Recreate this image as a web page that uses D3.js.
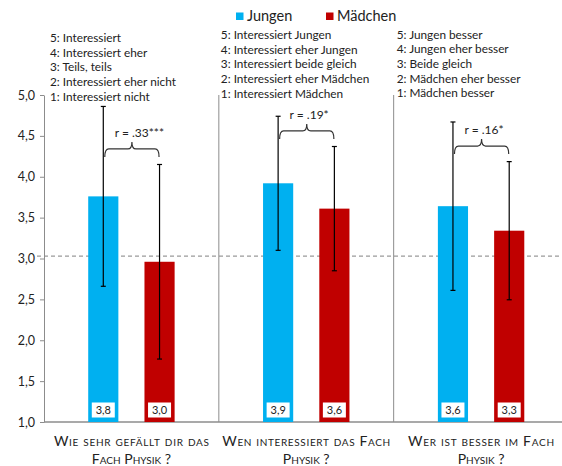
<!DOCTYPE html>
<html>
<head>
<meta charset="utf-8">
<script src="https://cdn.jsdelivr.net/npm/d3@7"></script>
<style>
  html, body { margin: 0; padding: 0; background: #fff; }
  svg { display: block; font-family: Lato, "Open Sans", sans-serif; }
</style>
</head>
<body>
<svg id="chart" width="562" height="466"></svg>
<script>
// ---- data ----
const questionLine1 = ["Wie sehr gefällt dir das", "Wen interessiert das Fach", "Wer ist besser im Fach"];
const questionLine2 = ["Fach Physik ?", "Physik ?", "Physik ?"];
const seriesNames = ["Jungen", "Mädchen"];
const jungenMean = [3.76, 3.92, 3.64];
const maedchenMean = [2.96, 3.61, 3.34];
const jungenSD = [1.10, 0.82, 1.03];
const maedchenSD = [1.19, 0.76, 0.845];
const correlations = ["r = .33***", "r = .19*", "r = .16*"];
const scaleLabels = [
  ["5: Interessiert", "4: Interessiert eher", "3: Teils, teils", "2: Interessiert eher nicht", "1: Interessiert nicht"],
  ["5: Interessiert Jungen", "4: Interessiert eher Jungen", "3: Interessiert beide gleich", "2: Interessiert eher Mädchen", "1: Interessiert Mädchen"],
  ["5: Jungen besser", "4: Jungen eher besser", "3: Beide gleich", "2: Mädchen eher besser", "1: Mädchen besser"]
];
const yTicks = [1.0, 1.5, 2.0, 2.5, 3.0, 3.5, 4.0, 4.5, 5.0];
const referenceLine = 3.03;

// ---- layout ----
const colors = { "Jungen": "#00B0F0", "Mädchen": "#C00000" };
const axisColor = "#8c8c8c";
const textColor = "#222";
const labelJustify = [155, 168, 146];
const annOffsetX = [6, 2, 3];
const annTopY = [42, 39, 38.5];

const svg = d3.select("#chart");
const fmt = v => d3.format(".1f")(v).replace(".", ",");

const y = d3.scaleLinear().domain([1, 5]).range([422, 95]);
const x = d3.scaleBand().domain(d3.range(3)).range([44, 568.5]).padding(0);
const xs = d3.scaleBand().domain(seriesNames).range([0, x.bandwidth()])
  .paddingInner(0.464).paddingOuter(0.786);

const rows = d3.range(3).map(i => ({
  i,
  bars: [
    { s: "Jungen", m: jungenMean[i], sd: jungenSD[i] },
    { s: "Mädchen", m: maedchenMean[i], sd: maedchenSD[i] }
  ]
}));

// reference line at scale midpoint
svg.append("line")
  .attr("x1", 37).attr("x2", 562)
  .attr("y1", y(referenceLine)).attr("y2", y(referenceLine))
  .attr("stroke", "#9a9a9a").attr("stroke-width", 1.2)
  .attr("stroke-dasharray", "4,3");

// group separators
svg.selectAll("line.sep").data([1, 2]).join("line")
  .attr("class", "sep")
  .attr("x1", d => x(d)).attr("x2", d => x(d))
  .attr("y1", y(5)).attr("y2", y(1))
  .attr("stroke", axisColor).attr("stroke-width", 1);

// y axis
const yAxis = svg.append("g")
  .attr("transform", `translate(${x.range()[0]},0)`)
  .call(d3.axisLeft(y).tickValues(yTicks).tickFormat(fmt).tickSize(4).tickSizeOuter(0));
yAxis.select(".domain").attr("stroke", axisColor);
yAxis.selectAll(".tick line").attr("stroke", axisColor);
yAxis.selectAll(".tick text")
  .attr("fill", textColor).attr("font-size", 12.5)
  .attr("font-family", "Lato, sans-serif").attr("x", -9);

// x axis baseline
svg.append("line")
  .attr("x1", x.range()[0]).attr("x2", 562)
  .attr("y1", y(1)).attr("y2", y(1))
  .attr("stroke", axisColor).attr("stroke-width", 1.5);

const groups = svg.selectAll("g.grp").data(rows).join("g")
  .attr("class", "grp")
  .attr("transform", d => `translate(${x(d.i)},0)`);

// bars
groups.selectAll("rect.bar").data(d => d.bars).join("rect")
  .attr("class", "bar")
  .attr("x", d => xs(d.s)).attr("width", xs.bandwidth())
  .attr("y", d => y(d.m)).attr("height", d => y(1) - y(d.m))
  .attr("fill", d => colors[d.s]);

// error bars (± SD)
const eb = groups.selectAll("g.err").data(d => d.bars).join("g").attr("class", "err")
  .attr("transform", d => `translate(${xs(d.s) + xs.bandwidth() / 2},0)`);
eb.append("line")
  .attr("y1", d => y(d.m + d.sd)).attr("y2", d => y(d.m - d.sd))
  .attr("stroke", "#000").attr("stroke-width", 1.2);
eb.selectAll("line.cap").data(d => [d.m + d.sd, d.m - d.sd]).join("line")
  .attr("class", "cap")
  .attr("x1", -2.5).attr("x2", 2.5)
  .attr("y1", v => y(v)).attr("y2", v => y(v))
  .attr("stroke", "#000").attr("stroke-width", 1.2);

// value boxes
const vb = groups.selectAll("g.val").data(d => d.bars).join("g").attr("class", "val")
  .attr("transform", d => `translate(${xs(d.s) + xs.bandwidth() / 2},0)`);
vb.append("rect")
  .attr("x", -11.5).attr("width", 23)
  .attr("y", y(1) - 19.5).attr("height", 15)
  .attr("fill", "#fff");
vb.append("text")
  .attr("y", y(1) - 8.2)
  .attr("text-anchor", "middle")
  .attr("font-size", 11).attr("fill", textColor)
  .text(d => fmt(d.m));

// correlation braces
groups.each(function (d) {
  const g = d3.select(this);
  const xa = xs("Jungen") + xs.bandwidth() / 2 + 1.5;
  const xb = xs("Mädchen") + xs.bandwidth() / 2 - 0.5;
  const xc = (xa + xb) / 2;
  const yb = y(d.bars[1].m + d.bars[1].sd + 0.19);
  const p = d3.path();
  p.moveTo(xa, yb + 8);
  p.quadraticCurveTo(xa, yb, xa + 4, yb);
  p.lineTo(xc - 4, yb);
  p.quadraticCurveTo(xc, yb, xc, yb - 7);
  p.quadraticCurveTo(xc, yb, xc + 4, yb);
  p.lineTo(xb - 4, yb);
  p.quadraticCurveTo(xb, yb, xb, yb + 8);
  g.append("path").attr("d", p.toString())
    .attr("fill", "none").attr("stroke", "#333").attr("stroke-width", 1.2);
  g.append("text")
    .attr("x", xa + 10).attr("y", yb - 12)
    .attr("font-size", 12).attr("fill", textColor)
    .text(correlations[d.i]);
});

// scale descriptions above each group
groups.each(function (d) {
  const g = d3.select(this);
  g.append("g").selectAll("text").data(scaleLabels[d.i]).join("text")
    .attr("x", annOffsetX[d.i])
    .attr("y", (t, k) => annTopY[d.i] + k * 14.7)
    .attr("font-size", 11.8).attr("fill", textColor)
    .text(t => t);
});

// category labels (small caps, first line justified)
groups.each(function (d) {
  const g = d3.select(this);
  const cx = x.bandwidth() / 2;
  g.append("text")
    .attr("x", cx).attr("y", 446)
    .attr("text-anchor", "middle")
    .attr("textLength", labelJustify[d.i]).attr("lengthAdjust", "spacing")
    .style("font-variant", "small-caps")
    .attr("font-size", 14).attr("fill", textColor)
    .text(questionLine1[d.i]);
  g.append("text")
    .attr("x", cx).attr("y", 463.5)
    .attr("text-anchor", "middle")
    .style("font-variant", "small-caps")
    .attr("font-size", 14).attr("fill", textColor)
    .text(questionLine2[d.i]);
});

// legend
const legend = svg.append("g");
const legX = [236, 326];
seriesNames.forEach((s, k) => {
  legend.append("rect")
    .attr("x", legX[k]).attr("y", 12.5).attr("width", 7.5).attr("height", 7.5)
    .attr("fill", colors[s]);
  legend.append("text")
    .attr("x", legX[k] + 11).attr("y", 21)
    .attr("font-size", 14.5).attr("fill", textColor)
    .text(s);
});
</script>
</body>
</html>
